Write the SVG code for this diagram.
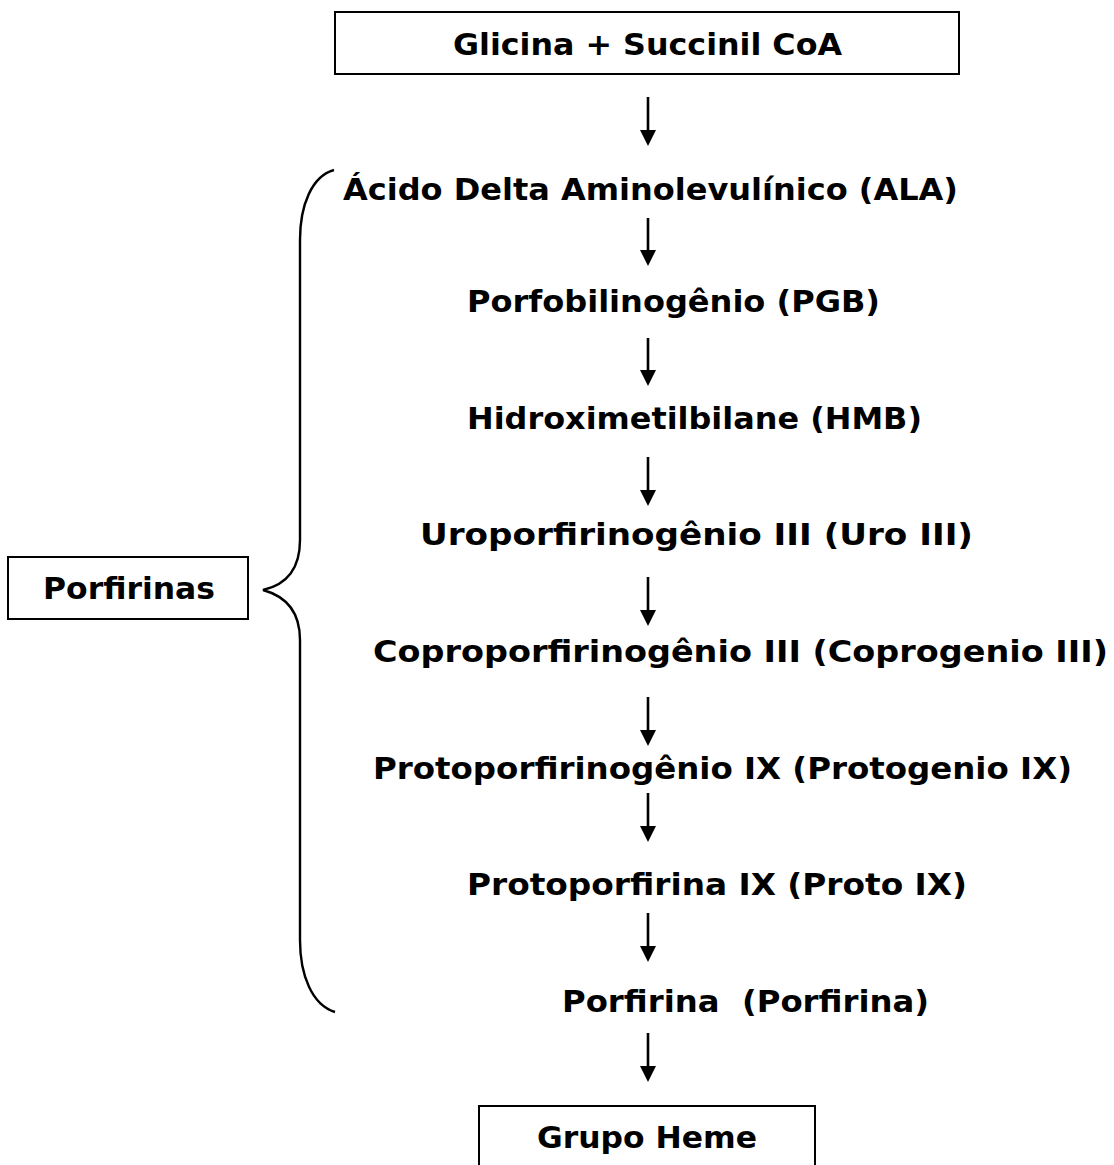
<svg xmlns="http://www.w3.org/2000/svg" width="1114" height="1165" viewBox="0 0 1114 1165">
<style>
text{font-family:"DejaVu Sans","Verdana",sans-serif;font-weight:bold;font-size:31px;fill:#000}
.box{fill:#fff;stroke:#000;stroke-width:2}
.arr{stroke:#000;stroke-width:2.6;fill:none}
.head{fill:#000}
.brace{stroke:#000;stroke-width:2.4;fill:none}
</style>
<rect width="1114" height="1165" fill="#fff"/>
<g id="connectors">
<path class="arr" d="M648,97 V131"/><path class="head" d="M640,130 H656 L648,146 Z"/>
<path class="arr" d="M648,218 V251"/><path class="head" d="M640,250 H656 L648,266 Z"/>
<path class="arr" d="M648,338 V371"/><path class="head" d="M640,370 H656 L648,386 Z"/>
<path class="arr" d="M648,457 V491"/><path class="head" d="M640,490 H656 L648,506 Z"/>
<path class="arr" d="M648,577 V611"/><path class="head" d="M640,610 H656 L648,626 Z"/>
<path class="arr" d="M648,697 V731"/><path class="head" d="M640,730 H656 L648,746 Z"/>
<path class="arr" d="M648,793 V827"/><path class="head" d="M640,826 H656 L648,842 Z"/>
<path class="arr" d="M648,913 V947"/><path class="head" d="M640,946 H656 L648,962 Z"/>
<path class="arr" d="M648,1033 V1067"/><path class="head" d="M640,1066 H656 L648,1082 Z"/>
<path class="brace" d="M334,170 C312,176 300,205 300,240 L300,540 C300,570 285,585 263,590 C285,596 300,610 300,640 L300,940 C300,975 312,1005 335,1012"/>
</g>
<g id="n-glicina"><rect class="box" x="335" y="12" width="624" height="62"/><text x="453" y="55" textLength="389" lengthAdjust="spacingAndGlyphs">Glicina + Succinil CoA</text></g>
<g id="n-ala"><text x="343" y="200" textLength="615" lengthAdjust="spacingAndGlyphs">Ácido Delta Aminolevulínico (ALA)</text></g>
<g id="n-pgb"><text x="467" y="312" textLength="413" lengthAdjust="spacingAndGlyphs">Porfobilinogênio (PGB)</text></g>
<g id="n-hmb"><text x="467" y="429" textLength="455" lengthAdjust="spacingAndGlyphs">Hidroximetilbilane (HMB)</text></g>
<g id="n-uro"><text x="420" y="545" textLength="553" lengthAdjust="spacingAndGlyphs">Uroporfirinogênio III (Uro III)</text></g>
<g id="n-copro"><text x="373" y="662" textLength="735" lengthAdjust="spacingAndGlyphs">Coproporfirinogênio III (Coprogenio III)</text></g>
<g id="n-protogen"><text x="373" y="779" textLength="699" lengthAdjust="spacingAndGlyphs">Protoporfirinogênio IX (Protogenio IX)</text></g>
<g id="n-proto"><text x="467" y="895" textLength="500" lengthAdjust="spacingAndGlyphs">Protoporfirina IX (Proto IX)</text></g>
<g id="n-porfirina"><text x="562" y="1012" textLength="367" lengthAdjust="spacingAndGlyphs" xml:space="preserve">Porfirina  (Porfirina)</text></g>
<g id="n-heme"><rect class="box" x="479" y="1106" width="336" height="70"/><text x="537" y="1148" textLength="220" lengthAdjust="spacingAndGlyphs">Grupo Heme</text></g>
<g id="n-porfirinas"><rect class="box" x="8" y="557" width="240" height="62"/><text x="43" y="599" textLength="172" lengthAdjust="spacingAndGlyphs">Porfirinas</text></g>
</svg>
